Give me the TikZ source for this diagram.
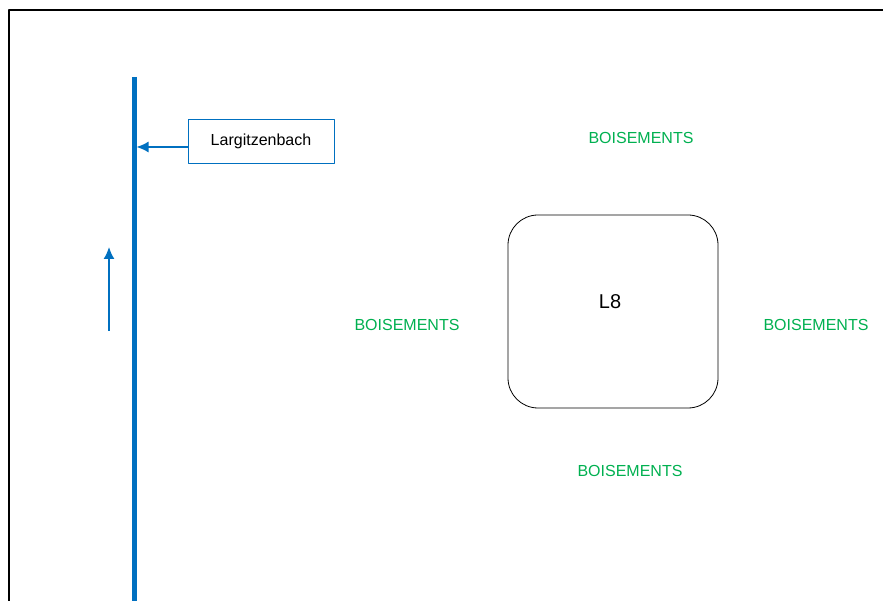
\documentclass[tikz,border=0pt]{standalone}
\usepackage{fontspec}
\setmainfont{Liberation Sans}
\usetikzlibrary{arrows.meta}
\definecolor{riverblue}{HTML}{0070C0}
\definecolor{woodgreen}{HTML}{00B050}
\begin{document}
\begin{tikzpicture}[x=1pt, y=-1pt, >={Latex[length=12pt,width=11pt]}, line join=round,
	wood/.style={text=woodgreen, font=\fontsize{16}{19}\selectfont},
	parcel/.style={draw, thick, rounded corners=30pt, minimum width=210pt, minimum height=193pt},
	tag/.style={draw=riverblue, line width=0.8pt, minimum width=146pt, minimum height=44pt, font=\fontsize{16}{19}\selectfont},
	river/.style={draw=riverblue, line width=5pt},
	flow/.style={->, draw=riverblue, line width=1.6pt}]
	\useasboundingbox (0,0) rectangle (883,601);
	\draw[line width=2.2pt] (883,10) -- (9,10) -- (9,601); % cadre
	% cours d'eau
	\coordinate (rtop) at (134,77); \coordinate (rbot) at (134,601);
	\draw[river] (rtop) -- (rbot);
	\node[tag] (largi) at (261,141) {Largitzenbach};
	\coordinate (astart) at ([yshift=-6pt]largi.west);
	\draw[flow] (astart) -- ([xshift=2.5pt]astart -| rtop);
	\coordinate (fbot) at (109,331); \coordinate (ftop) at (109,247);
	\draw[flow] (fbot) -- (ftop);
	% parcelle
	\node[parcel] (l8) at (613,311.5) {};
	\node[font=\fontsize{20}{24}\selectfont] (l8name) at (610,302) {L8};
	\node[wood] (bN) at (641,138) {BOISEMENTS};
	\node[wood] (bW) at (407,325) {BOISEMENTS};
	\node[wood] (bE) at (816,325) {BOISEMENTS};
	\node[wood] (bS) at (630,471) {BOISEMENTS};
\end{tikzpicture}
\end{document}
